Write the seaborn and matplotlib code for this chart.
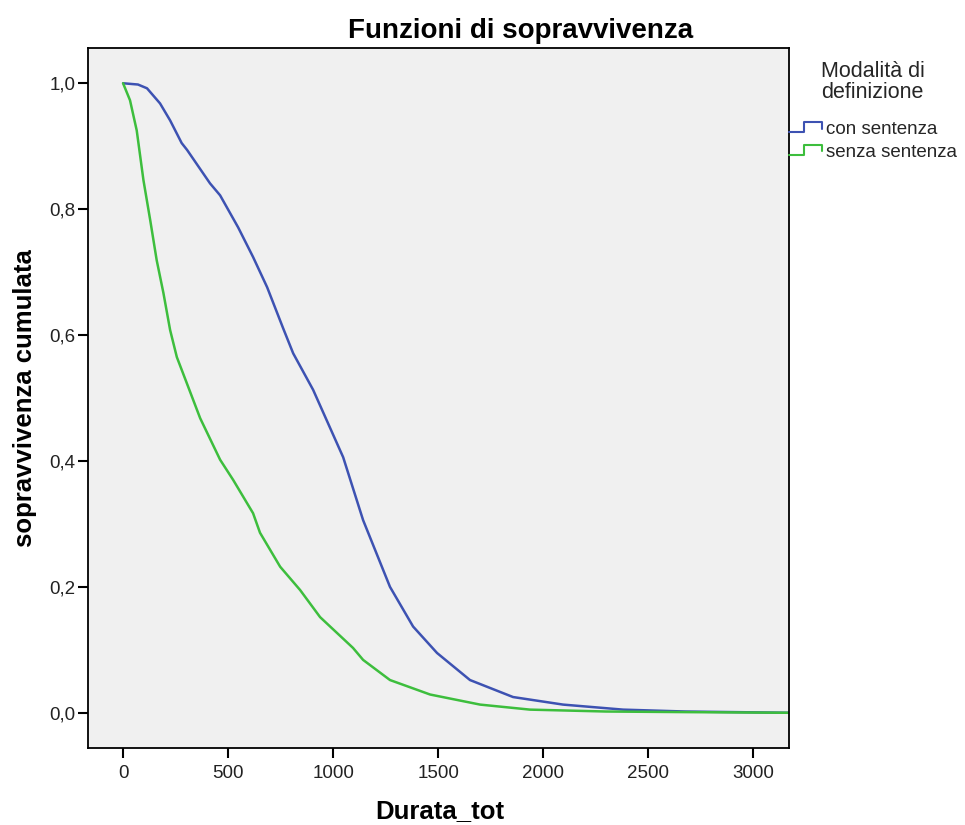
import pandas as pd
import seaborn as sns
import matplotlib
matplotlib.use("Agg")
import matplotlib.pyplot as plt
from matplotlib.lines import Line2D
from matplotlib.legend_handler import HandlerBase

# Kaplan-Meier curves
con_t = [0, 71, 114, 176, 224, 279, 305, 414, 462, 548, 619, 686, 762, 810,
         905, 1048, 1143, 1271, 1381, 1495, 1652, 1857, 2095, 2381, 2676, 3170]
con_s = [1.0, 0.998, 0.992, 0.968, 0.941, 0.905, 0.894, 0.841, 0.822, 0.771,
         0.724, 0.676, 0.611, 0.571, 0.513, 0.406, 0.306, 0.2, 0.137, 0.095,
         0.052, 0.025, 0.013, 0.005, 0.002, 0.0]

senza_t = [0, 33, 65, 97, 129, 160, 192, 224, 256, 303, 367, 462, 524, 619,
           652, 748, 843, 938, 986, 1095, 1143, 1271, 1462, 1700, 1938, 2300,
           2700, 3170]
senza_s = [1.0, 0.973, 0.925, 0.846, 0.783, 0.719, 0.667, 0.608, 0.565, 0.524,
           0.468, 0.402, 0.370, 0.317, 0.286, 0.232, 0.195, 0.152, 0.137,
           0.103, 0.084, 0.052, 0.029, 0.013, 0.005, 0.002, 0.001, 0.0]

groups = ["con sentenza", "senza sentenza"]
colors = ["#3D52B2", "#3DBE3D"]

x_ticks = [0, 500, 1000, 1500, 2000, 2500, 3000]
y_ticks = [0.0, 0.2, 0.4, 0.6, 0.8, 1.0]
y_tick_labels = ["0,0", "0,2", "0,4", "0,6", "0,8", "1,0"]

df = pd.concat([
    pd.DataFrame({"Durata_tot": con_t, "surv": con_s, "gruppo": groups[0]}),
    pd.DataFrame({"Durata_tot": senza_t, "surv": senza_s, "gruppo": groups[1]}),
])


# SPSS-like step symbol for the legend
class StepHandler(HandlerBase):
    def create_artists(self, legend, orig_handle, xdescent, ydescent,
                       width, height, fontsize, trans):
        x0, y0 = -xdescent, -ydescent
        xs = [x0, x0 + 0.45 * width, x0 + 0.45 * width, x0 + width, x0 + width]
        ys = [y0 + 0.1 * height, y0 + 0.1 * height, y0 + 0.9 * height,
              y0 + 0.9 * height, y0 + 0.4 * height]
        line = Line2D(xs, ys, color=orig_handle.get_color(), linewidth=1.5)
        line.set_transform(trans)
        return [line]


sns.set_style("ticks")
plt.rcParams["font.family"] = ["Liberation Sans", "DejaVu Sans"]

fig = plt.figure(figsize=(9.65, 8.25), dpi=100)
ax = fig.add_axes([0.0912, 0.0933, 0.7264, 0.8485])
ax.set_facecolor("#F0F0F0")

sns.lineplot(data=df, x="Durata_tot", y="surv", hue="gruppo", hue_order=groups,
             palette=colors, estimator=None, linewidth=1.8, ax=ax)

ax.set_xlim(-167, 3171)
ax.set_ylim(-0.056, 1.056)
ax.set_xticks(x_ticks)
ax.set_xticklabels([str(v) for v in x_ticks])
ax.set_yticks(y_ticks)
ax.set_yticklabels(y_tick_labels)
ax.tick_params(axis="both", length=7.5, width=1.5, labelsize=13.5,
               color="black", labelcolor="#222222")
ax.tick_params(axis="y", pad=1.5)
ax.tick_params(axis="x", pad=5)
for s in ax.spines.values():
    s.set_color("black")
    s.set_linewidth(1.3)

ax.set_xlabel("")
ax.set_ylabel("")
fig.text(0.539, 0.963, "Funzioni di sopravvivenza", ha="center", va="center",
         fontsize=20, fontweight="bold", color="black")
fig.text(0.026, 0.518, "sopravvivenza cumulata", ha="center", va="center",
         rotation=90, fontsize=18.5, fontweight="bold", color="black")
fig.text(0.456, 0.017, "Durata_tot", ha="center", va="center",
         fontsize=18.5, fontweight="bold", color="black")

handles, labels = ax.get_legend_handles_labels()
leg = ax.legend(handles, labels, title="Modalità di\ndefinizione",
                loc="upper left", bbox_to_anchor=(1.0, 0.982), frameon=False,
                fontsize=13.5, title_fontsize=15.5, borderaxespad=0,
                borderpad=0, handlelength=1.75, handletextpad=0.2,
                labelspacing=0.3, handler_map={Line2D: StepHandler()})
leg.get_title().set_multialignment("center")
leg.get_title().set_linespacing(1.0)
leg._legend_box.sep = 13

fig.savefig("out.png", dpi=100)
